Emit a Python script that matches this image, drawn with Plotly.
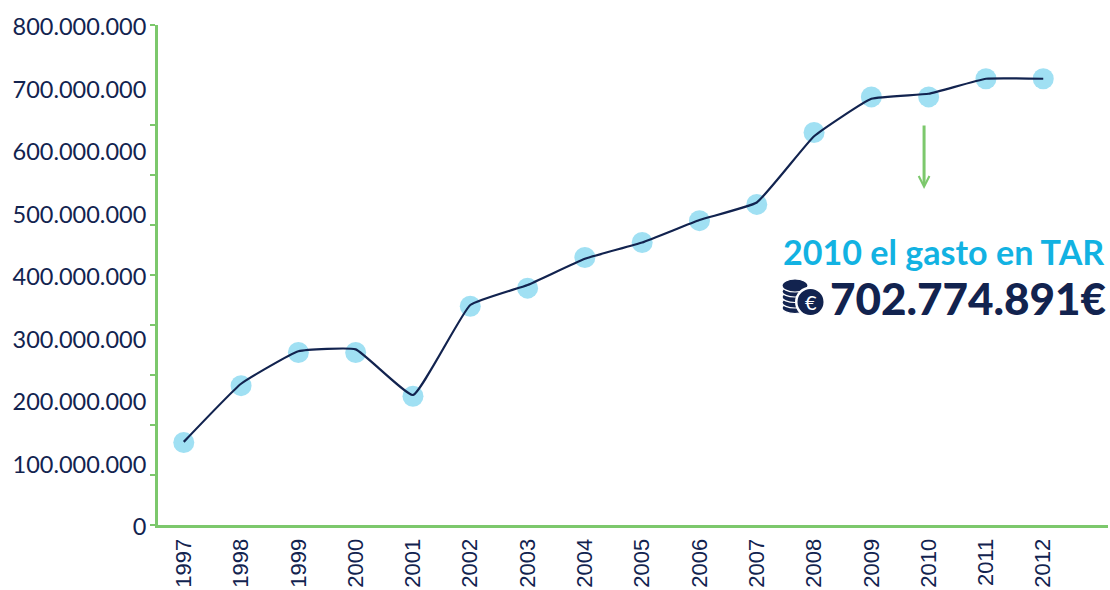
import plotly.graph_objects as go

years = list(range(1997, 2013))
point_values = [132e6, 223e6, 276e6, 276e6, 206e6, 350e6, 379e6, 428e6, 452e6, 487e6, 513e6, 628e6, 685e6, 685e6, 714e6, 714e6]
line_values = [133e6, 226e6, 278e6, 281e6, 208e6, 352e6, 384e6, 426e6, 452e6, 488e6, 516e6, 622e6, 682e6, 690e6, 714e6, 714e6]
y_tick_values = [0, 100e6, 200e6, 300e6, 400e6, 500e6, 600e6, 700e6, 800e6]
y_tick_labels = ["0", "100.000.000", "200.000.000", "300.000.000", "400.000.000", "500.000.000", "600.000.000", "700.000.000", "800.000.000"]
side_ticks = [0, 80e6, 160e6, 240e6, 320e6, 400e6, 480e6, 560e6, 640e6, 800e6]
callout_year = 2010
callout_title = "2010 el gasto en TAR"
callout_value = "702.774.891€"

NAVY = "#12234F"
GREEN = "#7CC86C"
DOT = "#A0E0F3"
BLUE = "#12B2E2"
W, H = 1110, 590
L, R, T, B = 158, 2, 25, 65


def px(x):
    return (x - L) / (W - L - R)


def py(y):
    return 1 - (y - T) / (H - T - B)


fig = go.Figure()
fig.add_trace(go.Scatter(x=years, y=point_values, mode="markers",
                         marker=dict(size=21, color=DOT), hoverinfo="skip"))
fig.add_trace(go.Scatter(x=years, y=line_values, mode="lines",
                         line=dict(color=NAVY, width=2.2, shape="spline", smoothing=0.35), hoverinfo="skip"))

shapes = []


def ell(cx, cy, rx, ry, fill, line=None, lw=0):
    shapes.append(dict(type="circle", xref="paper", yref="paper",
                       x0=px(cx - rx), x1=px(cx + rx), y0=py(cy + ry), y1=py(cy - ry),
                       fillcolor=fill, line=dict(color=line or fill, width=lw)))


for cy in (308, 302.5, 297, 291.5):
    ell(795, cy, 13, 5.5, NAVY, "white", 1.2)
ell(795, 285.5, 13, 6.5, NAVY, "white", 1.2)
ell(810.5, 302, 15.5, 15.5, "white")
ell(810.5, 302, 13, 13, NAVY)

annotations = [
    dict(x=callout_year - 0.08, y=py(189), xref="x", yref="paper", ax=0, ay=-65,
         text="", showarrow=True, arrowhead=5, arrowsize=0.7, arrowwidth=3, arrowcolor=GREEN),
    dict(x=px(1106), y=py(252), xref="paper", yref="paper", text=callout_title, showarrow=False,
         xanchor="right", yanchor="middle", font=dict(family="Lato", size=34.1, color=BLUE, weight=700)),
    dict(x=px(1107.5), y=py(298), xref="paper", yref="paper", text=callout_value, showarrow=False,
         xanchor="right", yanchor="middle", font=dict(family="Lato", size=44, color=NAVY, weight=900)),
    dict(x=px(810.5), y=py(302), xref="paper", yref="paper", text="€", showarrow=False,
         xanchor="center", yanchor="middle", font=dict(family="Lato", size=20, color="white", weight=400)),
]

fig.update_layout(
    width=W, height=H, margin=dict(l=L, r=R, t=T, b=B, autoexpand=False), autosize=False,
    paper_bgcolor="white", plot_bgcolor="white", showlegend=False,
    shapes=shapes, annotations=annotations,
    xaxis=dict(range=[1996.55, 2013.13], tickmode="array", tickvals=years, ticktext=[str(v) for v in years],
               tickangle=-90, showgrid=False, zeroline=False, showline=True, linecolor=GREEN, linewidth=3,
               automargin=False, ticks="outside", ticklen=2, tickcolor="rgba(0,0,0,0)",
               tickfont=dict(family="Liberation Sans", size=22, color=NAVY)),
    yaxis=dict(range=[0, 800e6], tickmode="array", tickvals=y_tick_values, ticktext=y_tick_labels,
               showgrid=False, zeroline=False, showline=True, linecolor=GREEN, linewidth=3,
               automargin=False, ticks="outside", ticklen=4, tickcolor="rgba(0,0,0,0)", tickwidth=1,
               ticklabelshift=2,
               tickfont=dict(family="Lato", size=23.5, color=NAVY),
               minor=dict(tickmode="array", tickvals=side_ticks, ticks="outside", ticklen=5, tickwidth=2, tickcolor=GREEN, showgrid=False)),
)

fig.write_html("out.html", config={"displayModeBar": False},
               post_script="document.body.style.margin='0';document.body.style.overflow='hidden';")
